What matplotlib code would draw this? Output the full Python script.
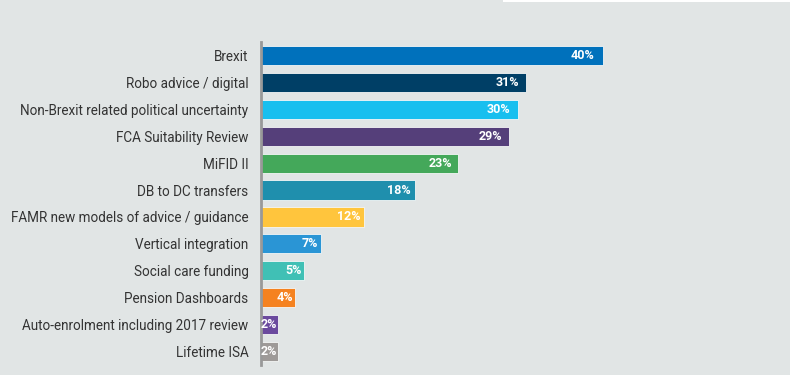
import matplotlib
matplotlib.use("Agg")
import matplotlib.pyplot as plt

categories = ["Brexit", "Robo advice / digital", "Non-Brexit related political uncertainty",
              "FCA Suitability Review", "MiFID II", "DB to DC transfers",
              "FAMR new models of advice / guidance", "Vertical integration",
              "Social care funding", "Pension Dashboards",
              "Auto-enrolment including 2017 review", "Lifetime ISA"]
values = [40, 31, 30, 29, 23, 18, 12, 7, 5, 4, 2, 2]
colors = ["#0071bc", "#003f66", "#18bfef", "#553f7a", "#44a85a", "#1f8fad",
          "#ffc53d", "#2a95d5", "#40c0b5", "#f58220", "#6b4a9e", "#9e9a98"]

bg = "#e1e5e5"
W, H = 790, 375
px = 8.55  # pixels per percent
fig = plt.figure(figsize=(W/100, H/100), dpi=100, facecolor=bg)
left = 261 / W
ax = fig.add_axes([left, 1 - 365/H, 1 - left, (365 - 42)/H])
ax.set_facecolor(bg)
fig.patches.append(plt.Rectangle((503/W, 1 - 2/H), 1 - 503/W, 2/H, transform=fig.transFigure,
                                 facecolor="white", edgecolor="none"))

y = list(range(len(categories)))
ax.barh(y, values, height=0.71, color=colors, edgecolor="#f4f6f6", linewidth=0.6)
ax.set_xlim(0, (W - 261) / px)
ax.set_ylim(len(categories) - 0.5, -0.5)
ax.set_yticks(y)
ax.set_yticklabels(categories, fontsize=9.75, color="#333333", family="Roboto")
ax.tick_params(axis="y", length=0, pad=9)
ax.set_xticks([])
for s in ["top", "right", "bottom"]:
    ax.spines[s].set_visible(False)
ax.spines["left"].set_color("#999999")
ax.spines["left"].set_linewidth(2)

for yi, v in zip(y, values):
    off = (1 + 0.2 * v) / px
    ax.text(v - off, yi, f"{v}%", ha="right", va="center", color="white",
            fontsize=9, fontweight="bold", family="Roboto", zorder=3)

fig.savefig("out.png", dpi=100, facecolor=bg)
